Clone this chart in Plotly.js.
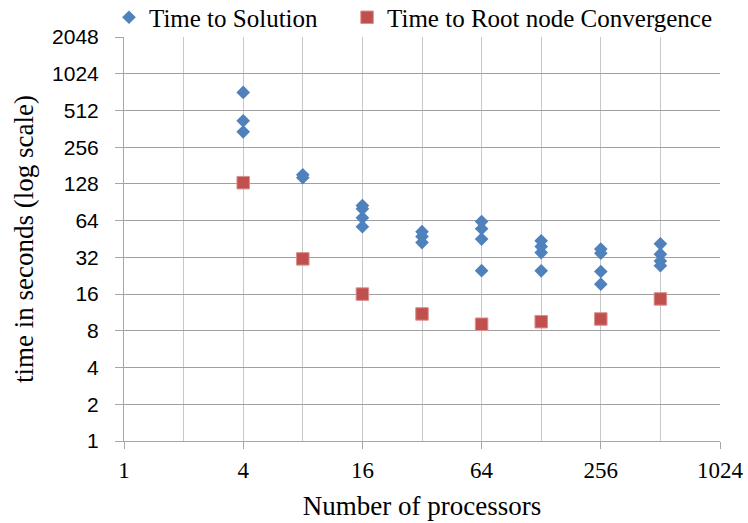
<!DOCTYPE html>
<html>
<head>
<meta charset="utf-8">
<script src="https://cdn.plot.ly/plotly-3.0.1.min.js"></script>
<style>html,body{margin:0;padding:0;background:#fff;}#chart{width:748px;height:523px;}</style>
</head>
<body>
<div id="chart"></div>
<script>
// Time to Solution (several runs per processor count)
var solutionProcs = [4,4,4, 8,8, 16,16,16,16, 32,32,32, 64,64,64,64, 128,128,128,128, 256,256,256,256, 512,512,512,512];
var solutionTimes = [720,421,342, 152,144, 85,80,67.5,57, 52,47.4,42.3, 62.9,54.9,45.2,24.9, 43.7,39.2,35.0,24.8, 37.4,34.6,24.5,19.3, 41.3,34,29.9,27.3];
// Time to Root node Convergence
var rootProcs = [4, 8, 16, 32, 64, 128, 256, 512];
var rootTimes = [131, 31.1, 16, 11, 9.06, 9.5, 10.0, 14.6];
// Axis ticks
var xTickVals = [1, 4, 16, 64, 256, 1024];
var xMinorVals = [2, 8, 32, 128, 512];
var yTickVals = [1, 2, 4, 8, 16, 32, 64, 128, 256, 512, 1024, 2048];

var traces = [
  {
    type: 'scatter', mode: 'markers', name: 'Time to Solution', legend: 'legend',
    x: solutionProcs, y: solutionTimes,
    marker: {symbol: 'diamond', size: 10.5, color: '#4F81BD', line: {width: 0}}
  },
  {
    type: 'scatter', mode: 'markers', name: 'Time to Root node Convergence', legend: 'legend2',
    x: rootProcs, y: rootTimes,
    marker: {symbol: 'square', size: 12.5, color: '#C0504D', line: {width: 1, color: '#D9908E'}}
  }
];

var legendFont = {family: 'Liberation Serif', size: 25, color: '#000'};

var layout = {
  width: 748, height: 523,
  margin: {l: 124, r: 28, t: 37, b: 82, autoexpand: false},
  paper_bgcolor: '#fff', plot_bgcolor: '#fff',
  showlegend: true,
  legend: {
    orientation: 'h', xref: 'container', yref: 'container',
    x: 0.1457, xanchor: 'left', y: 0.9665, yanchor: 'middle',
    font: legendFont, itemwidth: 30, bgcolor: 'rgba(0,0,0,0)'
  },
  legend2: {
    orientation: 'h', xref: 'container', yref: 'container',
    x: 0.464, xanchor: 'left', y: 0.9665, yanchor: 'middle',
    font: legendFont, itemwidth: 30, bgcolor: 'rgba(0,0,0,0)'
  },
  xaxis: {
    type: 'log', range: [0, Math.log10(1024)],
    tickmode: 'array', tickvals: xTickVals, ticktext: xTickVals.map(String),
    ticks: 'outside', ticklen: 7, tickcolor: '#A6A6A6', tickwidth: 1,
    ticklabelstandoff: 1,
    showgrid: true, gridcolor: '#C8C8C8', gridwidth: 1,
    minor: {tickmode: 'array', tickvals: xMinorVals, showgrid: true, gridcolor: '#C8C8C8', gridwidth: 1, ticks: ''},
    showline: true, linecolor: '#A6A6A6', linewidth: 1, mirror: false,
    zeroline: false,
    tickfont: {family: 'Liberation Serif', size: 23, color: '#000'},
    title: {text: 'Number of processors', font: {family: 'Liberation Serif', size: 27, color: '#000'}, standoff: 14},
    automargin: false
  },
  yaxis: {
    type: 'log', range: [0, Math.log10(2048)],
    tickmode: 'array', tickvals: yTickVals, ticktext: yTickVals.map(String),
    ticks: 'outside', ticklen: 8, tickcolor: '#A6A6A6', tickwidth: 1,
    ticklabelstandoff: 12,
    showgrid: true, gridcolor: '#A0A0A0', gridwidth: 1,
    showline: true, linecolor: '#A6A6A6', linewidth: 1,
    zeroline: false,
    tickfont: {family: 'Liberation Sans', size: 21, color: '#000'},
    title: {text: 'time in seconds (log scale)', font: {family: 'Liberation Serif', size: 27, color: '#000'}, standoff: 10},
    automargin: false
  }
};

Plotly.newPlot('chart', traces, layout, {displayModeBar: false, staticPlot: true});
</script>
</body>
</html>
